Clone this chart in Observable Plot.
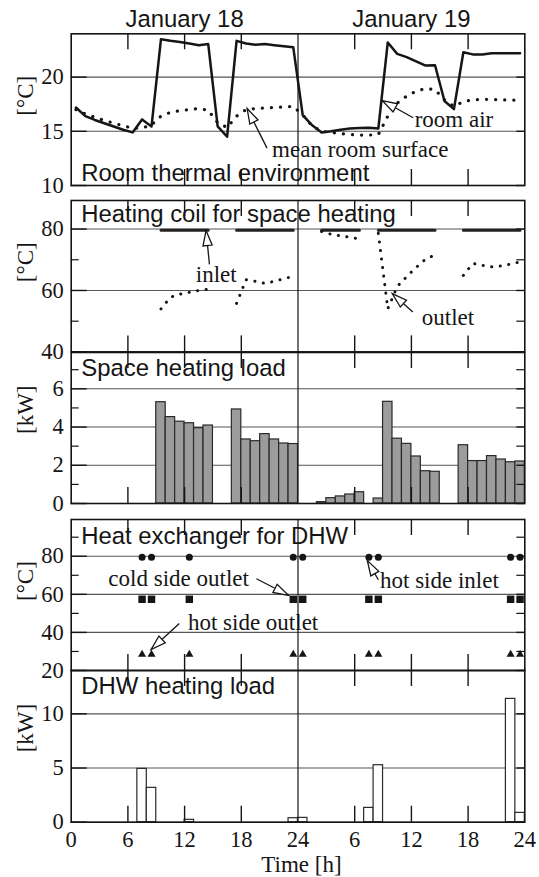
<!DOCTYPE html>
<html><head><meta charset="utf-8">
<script src="https://cdn.jsdelivr.net/npm/d3@7"></script>
<script src="https://cdn.jsdelivr.net/npm/@observablehq/plot@0.6"></script>
<style>
body{margin:0;background:#fff;}
#chart{position:relative;width:539px;height:877px;overflow:hidden;background:#fff;}
#chart svg{position:absolute;left:0;overflow:visible;}
</style></head><body><div id="chart"></div>
<script>
// ---------------- data ----------------
const hours = [0.5,1.5,2.5,3.5,4.5,5.5,6.5,7.5,8.5,9.5,10.5,11.5,12.5,13.5,14.5,15.5,16.5,17.5,18.5,19.5,20.5,21.5,22.5,23.5,
  24.5,25.5,26.5,27.5,28.5,29.5,30.5,31.5,32.5,33.5,34.5,35.5,36.5,37.5,38.5,39.5,40.5,41.5,42.5,43.5,44.5,45.5,46.5,47.5];
const roomAir = [17.2,16.4,16.05,15.75,15.45,15.15,14.9,16.1,15.45,23.5,23.35,23.25,23.1,22.95,23.05,15.45,14.5,23.35,23.1,23.0,23.05,22.95,22.85,22.75,
  16.5,15.55,14.9,15.0,15.15,15.25,15.3,15.32,15.25,23.2,22.15,21.85,21.45,21.07,21.1,17.8,17.05,22.3,22.1,22.1,22.2,22.2,22.2,22.2];
const roomSurface = [17.0,16.6,16.3,16.0,15.75,15.5,15.3,15.3,15.6,16.4,16.75,16.9,17.0,17.1,16.95,15.8,15.35,16.4,17.0,17.1,17.15,17.2,17.25,17.3,
  16.5,15.5,15.0,14.9,14.8,14.7,14.65,14.65,14.7,16.4,17.6,18.25,18.7,18.95,18.85,17.9,17.3,17.75,17.9,17.95,17.95,17.9,17.9,17.85];
const coilInlet = [null,null,null,null,null,null,null,null,null,79.6,79.6,79.6,79.6,79.6,79.6,null,null,79.6,79.6,79.6,79.6,79.6,79.6,79.6,
  null,null,79.6,79.6,79.6,79.6,79.6,null,79.6,79.6,79.6,79.6,79.6,79.6,79.6,null,null,79.6,79.6,79.6,79.6,79.6,79.6,79.6];
const coilOutlet = [null,null,null,null,null,null,null,null,null,54.0,57.8,58.8,59.4,60.0,60.4,null,null,55.8,63.5,63.0,62.3,63.0,63.8,64.6,
  null,null,79.2,78.3,77.8,77.3,76.8,null,78.6,54.0,61.3,64.5,67.5,70.2,71.6,null,null,64.9,68.8,68.2,67.7,68.0,68.6,69.3];
const shHours = [9,10,11,12,13,14, 17,18,19,20,21,22,23, 26,27,28,29,30, 32,33,34,35,36,37,38, 41,42,43,44,45,46,47];
const shLoad  = [5.3,4.52,4.28,4.2,3.94,4.08, 4.92,3.35,3.26,3.63,3.35,3.14,3.11, 0.07,0.28,0.37,0.47,0.59, 0.26,5.32,3.39,3.12,2.46,1.69,1.66, 3.05,2.22,2.22,2.48,2.3,2.16,2.2];
const hxHours = [7.5,8.5,12.5,23.5,24.5,31.5,32.5,46.5,47.5];
const hxHotIn   = [79.5,79.5,79.5,79.5,79.5,79.5,79.5,79.5,79.5];
const hxColdOut = [57.4,57.4,57.4,57.4,57.4,57.4,57.4,57.4,57.4];
const hxHotOut  = [28.5,28.5,28.5,28.5,28.5,28.5,28.5,28.5,28.5];
const dhwHours = [7,8,12,23,24,31,32,46,47];
const dhwLoad  = [4.92,3.17,0.22,0.37,0.4,1.32,5.26,11.38,0.86];
const xTickValues = [0,6,12,18,24,30,36,42,48];
const xTickLabels = ["0","6","12","18","24","6","12","18","24"];
const innerXTicks = [6,12,18,30,36,42];
const dayLabels = ["January 18","January 19"];
const dayCenters = [12,36];
const panelTitles = ["Room thermal environment","Heating coil for space heating","Space heating load","Heat exchanger for DHW","DHW heating load"];
const yLabels = ["[°C]","[°C]","[kW]","[°C]","[kW]"];
// annotations: label, text anchor (h, value), arrow tail and tip (h, value)
const notesP1 = [
  {label:"mean room surface", textH:21.26, textV:12.65, tailH:20.72, tailV:13.45, tipH:18.62, tipV:17.1},
  {label:"room air", textH:36.35, textV:15.38, tailH:36.19, tailV:16.25, tipH:32.91, tipV:17.84}
];
const notesP2 = [
  {label:"inlet", textH:13.18, textV:62.7, tailH:14.63, tailV:68.5, tipH:14.27, tipV:79.5},
  {label:"outlet", textH:37.1, textV:48.6, tailH:36.15, tailV:53.0, tipH:33.97, tipV:59.0}
];
const notesP4 = [
  {label:"cold side outlet", textH:3.93, textV:64.3, tailH:19.6, tailV:68.2, tipH:22.98, tipV:59.5},
  {label:"hot side inlet", textH:32.68, textV:63.3, tailH:32.5, tailV:67.65, tipH:31.34, tipV:77.7},
  {label:"hot side outlet", textH:12.35, textV:41.3, tailH:11.44, tailV:44.7, tipH:8.45, tipV:31.0}
];

// ---------------- layout / style ----------------
const W = 539, L = 70.7, R = 524.3;
const PXH = (R - L) / 48;
const SERIF = "'Liberation Serif','DejaVu Serif',serif";
const SANS = "'Liberation Sans',Arial,sans-serif";
const INK = "#151515";
const TITLE_SIZE = 23.9;
const TICK_SIZE = 22.5;

function head(angle) {
  const len = 15, hw = 4.6;
  const ux = Math.cos(angle), uy = Math.sin(angle), px = -uy, py = ux;
  return {draw(ctx) {
    const bx = -len * ux, by = -len * uy;
    ctx.moveTo(0, 0);
    ctx.lineTo(bx + px * hw, by + py * hw);
    ctx.lineTo(bx - px * hw, by - py * hw);
    ctx.closePath();
  }};
}
function noteMarks(notes, pxV) {
  const out = [];
  for (const a of notes) {
    const ang = Math.atan2(-(a.tipV - a.tailV) * pxV, (a.tipH - a.tailH) * PXH);
    out.push(Plot.link([a], {x1:"tailH", y1:"tailV", x2:"tipH", y2:"tipV", stroke:INK, strokeWidth:1.3}));
    out.push(Plot.dot([a], {x:"tipH", y:"tipV", symbol: head(ang), fill:"white", stroke:INK, strokeWidth:1.3}));
    out.push(Plot.text([a], {x:"textH", y:"textV", text:"label", textAnchor:"start", lineAnchor:"bottom", fontFamily:SERIF, fontSize:23, fill:INK}));
  }
  return out;
}

function panel(o) {
  const innerH = o.bottom - o.top, innerW = R - L;
  const pxV = innerH / (o.domain[1] - o.domain[0]);
  const marks = [
    Plot.ruleY(o.major, {stroke:"#555", strokeWidth:1.1}),
    ...o.marks(pxV),
    Plot.ruleX([24], {stroke:INK, strokeWidth:1.2}),
    Plot.ruleX(innerXTicks, {insetBottom: innerH - 16, stroke:INK, strokeWidth:1.4}),
    Plot.ruleX(innerXTicks, {insetTop: innerH - 16, stroke:INK, strokeWidth:1.4}),
    Plot.ruleY(o.major, {insetRight: innerW - 16, stroke:INK, strokeWidth:1.4}),
    Plot.ruleY(o.major, {insetLeft: innerW - 8, stroke:INK, strokeWidth:1.4}),
    Plot.ruleY(o.minor, {insetRight: innerW - 8, stroke:INK, strokeWidth:1.2}),
    Plot.ruleY(o.minor, {insetLeft: innerW - 8, stroke:INK, strokeWidth:1.2}),
    Plot.frame({stroke:INK, strokeWidth:1.6}),
    // y tick labels (serif)
    Plot.text(o.major, {y:d=>d, frameAnchor:"left", dx:-7.5, textAnchor:"end", lineAnchor:"middle", text:d=>String(d),
      fontFamily:SERIF, fontSize:TICK_SIZE, fill:INK}),
    Plot.text([yLabels[o.i]], {frameAnchor:"left", dx:-46, dy:6, rotate:-90, text:d=>d, fontFamily:SERIF, fontSize:23, fill:INK}),
    Plot.text([panelTitles[o.i]], {frameAnchor:"top-left", dx:10, dy:o.titleDy, textAnchor:"start", lineAnchor:"bottom",
      text:d=>d, fontFamily:SANS, fontSize:TITLE_SIZE, fill:INK}),
    ...(o.extra || [])
  ];
  const svg = Plot.plot({
    width: W, height: o.mt + innerH + o.mb,
    marginLeft: L, marginRight: W - R, marginTop: o.mt, marginBottom: o.mb,
    x: {domain:[0,48], axis:null},
    y: {domain:o.domain, axis:null},
    style: {fontFamily:SERIF, fontSize:"22px", background:"transparent", overflow:"visible", color:INK},
    marks
  });
  svg.style.top = (o.top - o.mt) + "px";
  document.getElementById("chart").appendChild(svg);
}

// P1 room thermal environment
panel({i:0, top:33.3, bottom:185, mt:33.3, mb:4, domain:[10,24], major:[10,15,20], minor:[], titleDy:146.7,
  marks: pxV => [
    Plot.line(hours, {x:hours, y:roomSurface, stroke:INK, strokeWidth:3.2, strokeDasharray:"0.1 9", strokeLinecap:"round"}),
    Plot.line(hours, {x:hours, y:roomAir, stroke:INK, strokeWidth:2.5}),
    ...noteMarks(notesP1, pxV)
  ],
  extra: [Plot.text(dayLabels, {x:(d,i)=>dayCenters[i], frameAnchor:"top", dy:-6.5, lineAnchor:"bottom", text:d=>d, fontFamily:SANS, fontSize:TITLE_SIZE, fill:INK})]
});
// P2 heating coil
panel({i:1, top:200.3, bottom:351.7, mt:12, mb:2, domain:[40,89.3], major:[40,60,80], minor:[50,70], titleDy:21.4,
  marks: pxV => [
    Plot.line(hours, {x:hours, y:coilInlet, stroke:"#222", strokeWidth:3}),
    Plot.line(hours, {x:hours, y:coilOutlet, stroke:INK, strokeWidth:3, strokeDasharray:"0.1 8.5", strokeLinecap:"round"}),
    ...noteMarks(notesP2, pxV)
  ]
});
// P3 space heating load
panel({i:2, top:351.7, bottom:502.7, mt:6, mb:4, domain:[0,7.9], major:[0,2,4,6], minor:[1,3,5,7], titleDy:23.3,
  marks: pxV => [
    Plot.rectY(shHours, {x1:shHours, x2:shHours.map(h=>h+1), y:shLoad, fill:"#9c9c9c", stroke:"#2a2a2a", strokeWidth:1.2})
  ]
});
// P4 heat exchanger
panel({i:3, top:519, bottom:670, mt:6, mb:2, domain:[20,99.3], major:[20,40,60,80], minor:[30,50,70,90], titleDy:24.2,
  marks: pxV => [
    Plot.dot(hxHours, {x:hxHours, y:hxHotIn, symbol:"circle", r:3.5, fill:INK}),
    Plot.dot(hxHours, {x:hxHours, y:hxColdOut, symbol:"square", r:4.2, fill:INK}),
    Plot.dot(hxHours, {x:hxHours, y:hxHotOut, symbol:"triangle", r:3, fill:INK}),
    ...noteMarks(notesP4, pxV)
  ]
});
// P5 DHW heating load
panel({i:4, top:670, bottom:821.7, mt:6, mb:55.3, domain:[0,14], major:[0,5,10], minor:[], titleDy:23.3,
  marks: pxV => [
    Plot.rectY(dhwHours, {x1:dhwHours, x2:dhwHours.map(h=>h+1), y:dhwLoad, fill:"white", stroke:"#2a2a2a", strokeWidth:1.2})
  ],
  extra: [
    Plot.text(xTickValues, {x:d=>d, frameAnchor:"bottom", dy:9, lineAnchor:"top", text:(d,i)=>xTickLabels[i],
      fontFamily:SERIF, fontSize:TICK_SIZE, fill:INK}),
    Plot.text(["Time [h]"], {frameAnchor:"bottom", dx:3.5, dy:50, lineAnchor:"bottom", text:d=>d, fontFamily:SERIF, fontSize:23, fill:INK})
  ]
});
</script></body></html>
